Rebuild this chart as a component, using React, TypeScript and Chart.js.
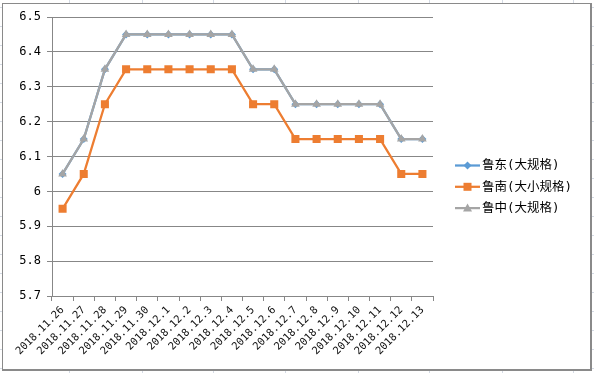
import React, { useEffect, useRef } from 'react';
import { Chart, registerables } from 'chart.js';

Chart.register(...registerables);

const categories = [
  '2018.11.26', '2018.11.27', '2018.11.28', '2018.11.29', '2018.11.30',
  '2018.12.1', '2018.12.2', '2018.12.3', '2018.12.4', '2018.12.5',
  '2018.12.6', '2018.12.7', '2018.12.8', '2018.12.9', '2018.12.10',
  '2018.12.11', '2018.12.12', '2018.12.13',
];

const seriesNames = ['鲁东(大规格)', '鲁南(大小规格)', '鲁中(大规格)'];

const luDong = [6.05, 6.15, 6.35, 6.45, 6.45, 6.45, 6.45, 6.45, 6.45, 6.35, 6.35, 6.25, 6.25, 6.25, 6.25, 6.25, 6.15, 6.15];
const luNan = [5.95, 6.05, 6.25, 6.35, 6.35, 6.35, 6.35, 6.35, 6.35, 6.25, 6.25, 6.15, 6.15, 6.15, 6.15, 6.15, 6.05, 6.05];
const luZhong = [6.05, 6.15, 6.35, 6.45, 6.45, 6.45, 6.45, 6.45, 6.45, 6.35, 6.35, 6.25, 6.25, 6.25, 6.25, 6.25, 6.15, 6.15];

const yMin = 5.7;
const yMax = 6.5;
const yStep = 0.1;

const colors = ['#5B9BD5', '#ED7D31', '#A5A5A5'];
const markers = ['diamond', 'square', 'triangle'];

const MONO = '"DejaVu Sans Mono", "Liberation Mono", monospace';

function drawMarker(ctx: CanvasRenderingContext2D, kind: string, x: number, y: number, color: string) {
  ctx.fillStyle = color;
  ctx.beginPath();
  if (kind === 'diamond') {
    ctx.moveTo(x, y - 4);
    ctx.lineTo(x + 4, y);
    ctx.lineTo(x, y + 4);
    ctx.lineTo(x - 4, y);
  } else if (kind === 'square') {
    ctx.rect(x - 4, y - 4, 8, 8);
  } else {
    ctx.moveTo(x, y - 4.5);
    ctx.lineTo(x + 4.5, y + 3.5);
    ctx.lineTo(x - 4.5, y + 3.5);
  }
  ctx.closePath();
  ctx.fill();
}

const legendPlugin = {
  id: 'excelLegend',
  afterDraw(chart: any) {
    const ctx: CanvasRenderingContext2D = chart.ctx;
    const x0 = chart.chartArea.right + 22;
    const y0 = 165.5;
    const step = 21.3;
    ctx.save();
    seriesNames.forEach((name, i) => {
      const y = y0 + i * step;
      ctx.strokeStyle = colors[i];
      ctx.lineWidth = 2.25;
      ctx.beginPath();
      ctx.moveTo(x0, y);
      ctx.lineTo(x0 + 25, y);
      ctx.stroke();
      drawMarker(ctx, markers[i], x0 + 12.5, y, colors[i]);
      ctx.fillStyle = '#000';
      ctx.font = '12.5px "DejaVu Sans Mono", "Noto Sans CJK SC", sans-serif';
      ctx.textAlign = 'left';
      ctx.textBaseline = 'middle';
      ctx.fillText(name, x0 + 27, y + 0.5);
    });
    ctx.restore();
  },
};

const gridCols = [69, 142, 213, 285, 358, 429, 502, 573];
const gridRows = Array.from({ length: 20 }, (_, k) => 6.7 + 19 * k);

export default function App() {
  const ref = useRef<HTMLCanvasElement | null>(null);

  useEffect(() => {
    if (!ref.current) return;
    const chart = new Chart(ref.current, {
      type: 'line',
      data: {
        labels: categories,
        datasets: [
          {
            label: seriesNames[0],
            data: luDong,
            borderColor: colors[0],
            backgroundColor: colors[0],
            borderWidth: 2.25,
            pointStyle: 'rectRot',
            pointRadius: 4,
            pointBorderWidth: 0,
            tension: 0,
            order: 2,
          },
          {
            label: seriesNames[1],
            data: luNan,
            borderColor: colors[1],
            backgroundColor: colors[1],
            borderWidth: 2.25,
            pointStyle: 'rect',
            pointRadius: 5.7,
            pointBorderWidth: 0,
            tension: 0,
            order: 1,
          },
          {
            label: seriesNames[2],
            data: luZhong,
            borderColor: colors[2],
            backgroundColor: colors[2],
            borderWidth: 2.25,
            pointStyle: 'triangle',
            pointRadius: 5,
            pointBorderWidth: 0,
            tension: 0,
            order: 0,
          },
        ],
      },
      options: {
        responsive: false,
        animation: false,
        devicePixelRatio: 1,
        layout: { padding: { left: 0, top: 17, right: 161, bottom: 0 } },
        plugins: {
          legend: { display: false },
          tooltip: { enabled: false },
        },
        scales: {
          x: {
            offset: true,
            grid: {
              offset: true,
              drawOnChartArea: false,
              drawTicks: true,
              tickLength: 5,
              color: '#878787',
            },
            border: { display: true, color: '#878787', width: 1 },
            ticks: {
              autoSkip: false,
              minRotation: 45,
              maxRotation: 45,
              padding: 3,
              color: '#111',
              font: { family: MONO, size: 10.5 },
            },
            afterFit: (s: any) => {
              s.height = 373 - 296;
            },
          },
          y: {
            min: yMin,
            max: yMax,
            grid: {
              color: '#878787',
              drawTicks: true,
              tickLength: 5,
            },
            border: { display: true, color: '#878787', width: 1 },
            ticks: {
              stepSize: yStep,
              padding: 6,
              color: '#000',
              font: { family: MONO, size: 12 },
              callback: (v: any) => String(Number(Number(v).toFixed(1))),
            },
            afterFit: (s: any) => {
              s.width = 52;
            },
          },
        },
      },
      plugins: [legendPlugin],
    });
    return () => chart.destroy();
  }, []);

  return (
    <div
      style={{
        position: 'fixed',
        left: 0,
        top: 0,
        width: 594,
        height: 373,
        background: '#fff',
        overflow: 'hidden',
      }}
    >
      {gridCols.map((x) => (
        <div key={'c' + x} style={{ position: 'absolute', left: x, top: 0, width: 1, height: 373, background: '#d4dae4' }} />
      ))}
      {gridRows.map((y) => (
        <div key={'r' + y} style={{ position: 'absolute', left: 0, top: Math.round(y), width: 594, height: 1, background: '#d4dae4' }} />
      ))}
      <div
        style={{
          position: 'absolute',
          left: 2,
          top: 3,
          width: 587,
          height: 365,
          background: '#fff',
          borderLeft: '1px solid #8a8a8a',
          borderTop: '1px solid #8a8a8a',
          borderRight: '2px solid #8a8a8a',
          borderBottom: '2px solid #8a8a8a',
        }}
      />
      <canvas ref={ref} width={594} height={373} style={{ position: 'absolute', left: 0, top: 0 }} />
    </div>
  );
}
